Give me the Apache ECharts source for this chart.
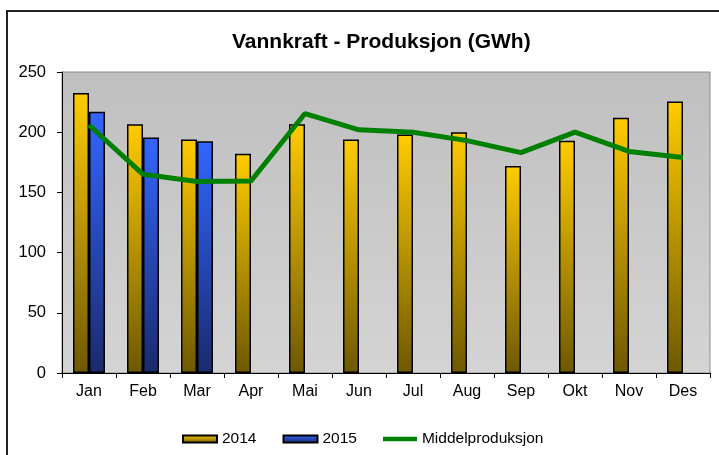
<!DOCTYPE html>
<html>
<head>
<meta charset="utf-8">
<script src="https://cdn.jsdelivr.net/npm/echarts@6/dist/echarts.min.js"></script>
<style>
    html,body{margin:0;padding:0;background:#fff;}
    #vannkraft{width:719px;height:455px;}
</style>
</head>
<body>
<div id="vannkraft"></div>
<script>
    // verdier lest av figuren
    var maaneder = ['Jan','Feb','Mar','Apr','Mai','Jun','Jul','Aug','Sep','Okt','Nov','Des'];
    var prod2014 = [232.5, 206.5, 194, 182, 206.5, 194, 198, 200, 172, 193, 212, 225.5];
    var prod2015 = [217, 195.5, 192.5, null, null, null, null, null, null, null, null, null];
    var middel = [206, 165, 159, 159.5, 215.5, 202, 200, 193, 183, 200, 184, 179];
    var yTicks = {min: 0, max: 250, interval: 50};

    var font = "'Liberation Sans', Arial, sans-serif";

    function grad(top, bottom){
        return new echarts.graphic.LinearGradient(0,0,0,1,[
            {offset:0,color:top},
            {offset:1,color:bottom}
        ]);
    }

    var chart = echarts.init(document.getElementById('vannkraft'));
    var option = {
        animation:false,
        title:{
            text:'Vannkraft - Produksjon (GWh)',
            left:227,
            top:27,
            textStyle:{fontFamily:font,fontSize:21,fontWeight:'bold',color:'#000'}
        },
        graphic:[{
            type:'polyline',
            shape:{points:[[7,455],[7,11],[719,11]]},
            style:{stroke:'#222',lineWidth:2,fill:null}
        }],
        legend:{
            left:182,
            top:431,
            padding:0,
            itemWidth:34,
            itemHeight:7,
            itemGap:26,
            textStyle:{fontFamily:font,fontSize:15.5,color:'#000'},
            data:[
                {name:'2014',icon:'rect'},
                {name:'2015',icon:'rect'},
                {name:'Middelproduksjon',icon:'path://M0,0 L38,0 L38,5 L0,5 Z',itemStyle:{color:'#008000',borderWidth:0}}
            ]
        },
        grid:{
            left:62,
            top:72,
            right:9,
            bottom:82,
            show:true,
            backgroundColor:grad('#bfbfbf','#d4d4d4'),
            borderColor:'#8c8c8c',
            borderWidth:1
        },
        xAxis:{
            type:'category',
            data:maaneder,
            axisLine:{lineStyle:{color:'#000',width:1}},
            axisTick:{show:true,length:5,inside:false,lineStyle:{color:'#000'}},
            axisLabel:{fontFamily:font,fontSize:16,color:'#000',margin:11}
        },
        yAxis:{
            type:'value',
            min:yTicks.min,
            max:yTicks.max,
            interval:yTicks.interval,
            axisLine:{show:true,lineStyle:{color:'#000',width:1}},
            axisTick:{show:true,length:5,lineStyle:{color:'#000'}},
            axisLabel:{fontFamily:font,fontSize:16.5,color:'#000',margin:16},
            splitLine:{show:false}
        },
        series:[
            {
                name:'2014',
                type:'bar',
                data:prod2014,
                barWidth:16,
                barGap:'0%',
                itemStyle:{
                    color:grad('#ffcc00','#6e5800'),
                    borderColor:'#000',
                    borderWidth:1.5
                }
            },
            {
                name:'2015',
                type:'bar',
                data:prod2015,
                barWidth:16,
                barGap:'0%',
                itemStyle:{
                    color:grad('#3366ff','#1a2a6c'),
                    borderColor:'#000',
                    borderWidth:1.5
                }
            },
            {
                name:'Middelproduksjon',
                type:'line',
                data:middel,
                symbol:'none',
                lineStyle:{color:'#008000',width:5},
                itemStyle:{color:'#008000'}
            }
        ]
    };
    chart.setOption(option);
    window.addEventListener("resize",chart.resize);
</script>
</body>
</html>
